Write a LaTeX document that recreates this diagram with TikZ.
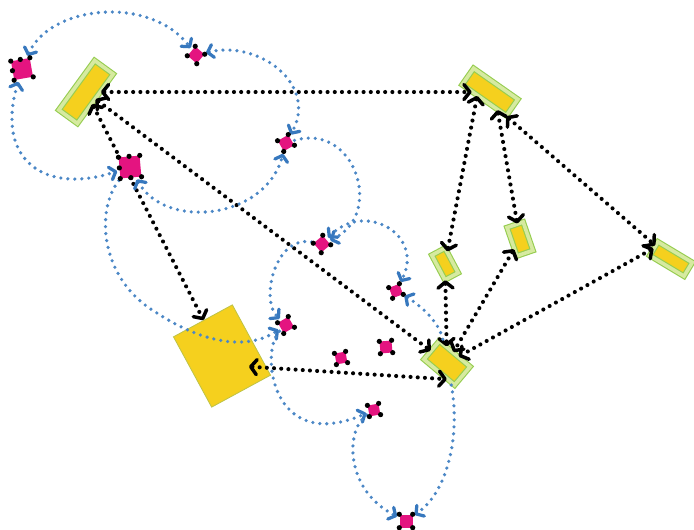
\documentclass[tikz,border=0pt]{standalone}
\usetikzlibrary{arrows.meta,calc}
\definecolor{yel}{RGB}{245,208,30}
\definecolor{grn}{RGB}{150,205,80}
\definecolor{pal}{RGB}{214,234,160}
\definecolor{cbord}{RGB}{190,195,70}
\definecolor{blu}{RGB}{75,135,198}
\definecolor{blutip}{RGB}{55,120,190}
\definecolor{pnk}{RGB}{228,20,128}
\pgfdeclarelayer{fg}
\pgfsetlayers{main,fg}
\tikzset{
 box/.style={shape=rectangle, draw=grn, line width=1.1pt, double=pal, double distance=3.6pt, fill=yel, inner sep=0pt},
 bigbox/.style={shape=rectangle, draw=cbord, line width=0.8pt, fill=yel, inner sep=0pt},
 pinkbox/.style={shape=rectangle, fill=pnk, inner sep=0pt},
 blk/.style={draw=black, line width=4.1pt, line cap=round, dash pattern=on 0pt off 7.2pt,
   >={Straight Barb[length=6pt,width=15pt,line width=0pt 0.85,round]}},
 bluline/.style={draw=blu, line width=3.6pt, line cap=round, dash pattern=on 0pt off 7pt,
   shorten <=2.5pt, shorten >=2.5pt,
   >={Straight Barb[length=5.5pt,width=13pt,line width=0pt 0.9,round,color=blutip]}},
}
\newcommand\pinkdot[5]{%
  \node[pinkbox, minimum size=#5pt, rotate=#4] (#1) at (#2,#3) {};
  \foreach \q in {north east,north west,south east,south west}{\fill[black] (#1.\q) circle (2.6pt);}%
}
\begin{document}
\begin{tikzpicture}[x=1pt,y=-1pt]
\useasboundingbox[fill=white] (0,0) rectangle (694,530);
% boxes
\node[box, minimum width=61pt, minimum height=23pt, rotate=54] (A) at (86,92) {};
\node[box, minimum width=54pt, minimum height=20pt, rotate=-35] (B) at (490,92) {};
\node[bigbox, minimum width=67pt, minimum height=80pt, rotate=28.5] (C) at (222,356) {};
\node[box, minimum width=15pt, minimum height=28pt, rotate=28] (D) at (445,264) {};
\node[box, minimum width=17pt, minimum height=30pt, rotate=19] (E) at (520,239) {};
\node[box, minimum width=40pt, minimum height=16pt, rotate=-31] (F) at (671,259) {};
\node[box, minimum width=40pt, minimum height=24pt, rotate=-40] (G) at (447,363) {};
% pink nodes
\begin{pgfonlayer}{fg}
\pinkdot{P1}{22}{69}{10}{19}
\fill[black] (P1.west) circle (2.6pt);
\fill[black] (P1.north) circle (2.6pt);
\pinkdot{P2}{196}{55}{50}{12}
\pinkdot{P3}{130}{167}{5}{21}
\fill[black] (P3.north) circle (2.6pt);
\fill[black] (P3.west) circle (2.6pt);
\fill[black] (P3.south) circle (2.6pt);
\pinkdot{P4}{286}{143}{30}{12}
\pinkdot{P5}{322}{244}{40}{12}
\pinkdot{P6}{396}{291}{20}{11}
\pinkdot{P7}{286}{325}{30}{12}
\pinkdot{P8}{341}{358}{10}{11}
\pinkdot{P9}{386}{347}{5}{12}
\pinkdot{P10}{374}{410}{10}{11}
\pinkdot{P11}{406}{521}{0}{13}
\end{pgfonlayer}
% black connectors
\draw[blk,<->] (A) -- (B);
\draw[blk,<->] (A) -- (G);
\draw[blk,<->] (A) -- (C);
\draw[blk,<->] ($(C.center)!0.55!(C.south east)$) -- ($(G.south)!0.5!(G.south east)$);
\draw[blk,<->] ($(B.south)!0.3!(B.south west)$) -- (D);
\draw[blk,<->] ($(B.south)!0.6!(B.south east)$) -- (E);
\draw[blk,<->] (B.south east) -- (F);
\draw[blk,<->] (D) -- (G);
\draw[blk,<->] (E) -- (G);
\draw[blk,<->] (F.west) -- (G);
% blue connectors
\draw[bluline,<->] (P1) .. controls (50,5) and (150,-5) .. (P2);
\draw[bluline,<->] (P2) .. controls (260,40) and (318,85) .. (P4);
\draw[bluline,<->] (P1) .. controls (-5,160) and (45,195) .. (P3);
\draw[bluline,<->] (P3) .. controls (165,230) and (265,220) .. (P4);
\draw[bluline,->] (P4) .. controls (355,122) and (385,215) .. (P5);
\draw[bluline,->] (P3) .. controls (95,210) and (100,280) .. (157,313) .. controls (190,335) and (240,355) .. (P7);
\draw[bluline,->] (P5) .. controls (275,235) and (260,300) .. (P7);
\draw[bluline,<->] (P5) .. controls (365,200) and (425,235) .. (P6);
\draw[bluline,<-] (P6) .. controls (420,305) and (440,322) .. (G);
\draw[bluline,->] (P7) .. controls (260,350) and (270,455) .. (P10);
\draw[bluline,->] (P10) .. controls (345,430) and (345,490) .. (P11);
\draw[bluline,->] (G) .. controls (460,430) and (450,490) .. (P11);
\end{tikzpicture}
\end{document}
